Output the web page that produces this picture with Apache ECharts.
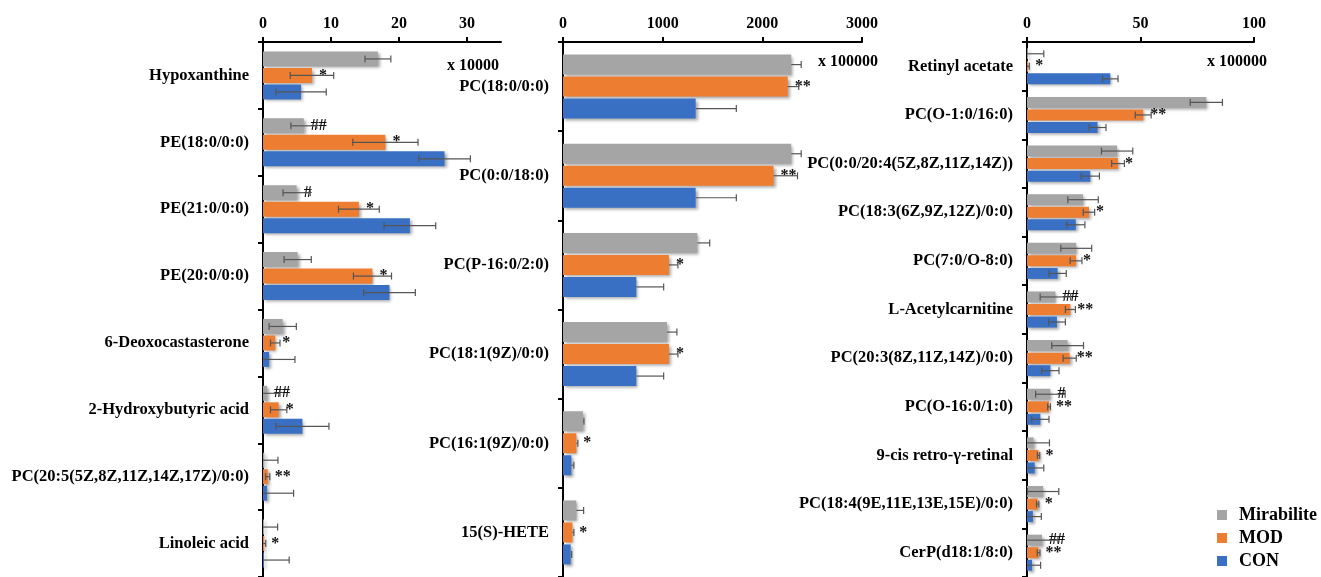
<!DOCTYPE html>
<html>
<head>
<meta charset="utf-8">
<script src="https://cdn.jsdelivr.net/npm/echarts@6/dist/echarts.min.js"></script>
<style>html,body{margin:0;padding:0;background:#fff}#c{width:1321px;height:577px}</style>
</head>
<body>
<div id="c"></div>
<script>
// ---- data ----
const seriesNames = ['Mirabilite', 'MOD', 'CON'];
const seriesColors = ['#a5a5a5', '#ed7d31', '#3a70c4'];

const leftCats = ['Hypoxanthine', 'PE(18:0/0:0)', 'PE(21:0/0:0)', 'PE(20:0/0:0)', '6-Deoxocastasterone', '2-Hydroxybutyric acid', 'PC(20:5(5Z,8Z,11Z,14Z,17Z)/0:0)', 'Linoleic acid'];
const leftMir = [16.9, 6.0, 4.95, 5.1, 2.9, 0.6, 0.2, 0.15];
const leftMirErr = [1.9, 1.9, 2.0, 2.0, 2.0, 1.9, 2.0, 2.0];
const leftMod = [7.2, 18.0, 14.1, 16.1, 1.8, 2.3, 0.7, 0.2];
const leftModErr = [3.2, 4.8, 3.0, 2.8, 0.7, 1.2, 0.3, 0.2];
const leftCon = [5.6, 26.7, 21.6, 18.6, 0.9, 5.8, 0.6, 0.15];
const leftConErr = [3.7, 3.8, 3.8, 3.8, 3.8, 3.9, 3.9, 3.7];
const leftMirSig = ['', '##', '#', '', '', '##', '', ''];
const leftModSig = ['*', '*', '*', '*', '*', '*', '**', '*'];
const leftTicks = [0, 10, 20, 30];

const midCats = ['PC(18:0/0:0)', 'PC(0:0/18:0)', 'PC(P-16:0/2:0)', 'PC(18:1(9Z)/0:0)', 'PC(16:1(9Z)/0:0)', '15(S)-HETE'];
const midMir = [2290, 2290, 1348, 1043, 200, 134];
const midMirErr = [100, 100, 124, 100, 10, 73];
const midMod = [2255, 2113, 1063, 1063, 134, 94];
const midModErr = [110, 240, 90, 90, 15, 15];
const midCon = [1331, 1331, 736, 736, 84, 77];
const midConErr = [408, 408, 274, 274, 25, 10];
const midMirSig = ['', '', '', '', '', ''];
const midModSig = ['**', '**', '*', '*', '*', '*'];
const midTicks = [0, 1000, 2000, 3000];

const rightCats = ['Retinyl acetate', 'PC(O-1:0/16:0)', 'PC(0:0/20:4(5Z,8Z,11Z,14Z))', 'PC(18:3(6Z,9Z,12Z)/0:0)', 'PC(7:0/O-8:0)', 'L-Acetylcarnitine', 'PC(20:3(8Z,11Z,14Z)/0:0)', 'PC(O-16:0/1:0)', '9-cis retro-γ-retinal', 'PC(18:4(9E,11E,13E,15E)/0:0)', 'CerP(d18:1/8:0)'];
const rightMir = [0.4, 79.0, 39.7, 24.7, 21.7, 12.5, 17.9, 10.3, 2.9, 7.1, 6.6];
const rightMirErr = [7.0, 7.1, 6.9, 6.7, 6.8, 6.7, 7.0, 6.5, 7.0, 6.9, 7.0];
const rightMod = [0.5, 51.2, 40.1, 27.3, 21.6, 19.1, 18.8, 9.7, 5.1, 4.7, 5.1];
const rightModErr = [0.5, 3.5, 2.8, 2.5, 2.6, 2.2, 2.9, 0.6, 0.5, 0.5, 0.6];
const rightCon = [36.7, 31.1, 27.9, 21.5, 13.5, 13.2, 10.3, 5.9, 3.4, 2.6, 2.2];
const rightConErr = [3.4, 3.7, 4.0, 4.0, 3.8, 3.7, 3.8, 3.8, 4.0, 3.7, 3.8];
const rightMirSig = ['', '', '', '', '', '##', '', '#', '', '', '##'];
const rightModSig = ['*', '**', '*', '*', '*', '**', '**', '**', '*', '*', '**'];
const rightTicks = [0, 50, 100];

const unitLabels = ['x 10000', 'x 100000', 'x 100000'];

// ---- build ----
const FONT = "'Liberation Serif', 'Times New Roman', serif";
const panels = [
  {cats: leftCats, vals: [leftMir, leftMod, leftCon], errs: [leftMirErr, leftModErr, leftConErr], sigs: [leftMirSig, leftModSig, null], ticks: leftTicks, max: 35, interval: 10, grid: {left: 263, top: 42, width: 238, height: 535}, bw: 15, gapPct: 0.1, oneSided: false, unit: {x: 447, y: 67}},
  {cats: midCats, vals: [midMir, midMod, midCon], errs: [midMirErr, midModErr, midConErr], sigs: [midMirSig, midModSig, null], ticks: midTicks, max: 3000, interval: 1000, grid: {left: 563, top: 42, width: 299, height: 535}, bw: 20, gapPct: 0.1, oneSided: true, unit: {x: 818, y: 63}},
  {cats: rightCats, vals: [rightMir, rightMod, rightCon], errs: [rightMirErr, rightModErr, rightConErr], sigs: [rightMirSig, rightModSig, null], ticks: rightTicks, max: 100, interval: 50, grid: {left: 1027, top: 42, width: 227, height: 535}, bw: 11, gapPct: 0.14, oneSided: false, unit: {x: 1207, y: 63}}
];

const grids = [], xAxes = [], yAxes = [], series = [], graphics = [];
panels.forEach((p, pi) => {
  grids.push(Object.assign({containLabel: false}, p.grid));
  xAxes.push({
    type: 'value', gridIndex: pi, position: 'top', min: 0, max: p.max, interval: p.interval,
    splitLine: {show: false},
    axisLine: {show: true, lineStyle: {color: '#000', width: 2}},
    axisTick: {show: true, length: 5, lineStyle: {color: '#000', width: 2}, customValues: p.ticks},
    axisLabel: {fontFamily: FONT, fontWeight: 'bold', fontSize: 16, color: '#000', margin: 10, customValues: p.ticks,
      formatter: (v) => String(v)}
  });
  yAxes.push({
    type: 'category', gridIndex: pi, inverse: true, data: p.cats,
    axisLine: {show: true, lineStyle: {color: '#000', width: 2}},
    axisTick: {show: true, length: 5, lineStyle: {color: '#000', width: 2}},
    axisLabel: {fontFamily: FONT, fontWeight: 'bold', fontSize: 16.5, color: '#000', margin: 14}
  });
  for (let k = 0; k < 3; k++) {
    const sig = p.sigs[k];
    series.push({
      type: 'bar', name: seriesNames[k], xAxisIndex: pi, yAxisIndex: pi,
      data: p.vals[k], barWidth: p.bw, barGap: (p.gapPct * 100) + '%',
      itemStyle: {color: seriesColors[k], shadowBlur: 3, shadowColor: 'rgba(0,0,0,0.35)', shadowOffsetX: 2, shadowOffsetY: 2},
      label: {show: !!sig, position: 'right', distance: 7, fontFamily: FONT, fontWeight: 'bold', fontSize: 16, color: '#111',
        formatter: (prm) => sig ? sig[prm.dataIndex] : ''},
      z: 2, animation: false
    });
  }
  const errData = [];
  for (let k = 0; k < 3; k++) {
    p.vals[k].forEach((v, i) => errData.push([v, i, p.errs[k][i], k]));
  }
  const bw = p.bw, gap = p.bw * p.gapPct, oneSided = p.oneSided;
  series.push({
    type: 'custom', xAxisIndex: pi, yAxisIndex: pi, data: errData, z: 5, silent: true, animation: false,
    encode: {x: 0, y: 1},
    renderItem: (params, api) => {
      const v = api.value(0), c = api.value(1), e = api.value(2), k = api.value(3);
      const base = api.coord([v, c]);
      const y = base[1] + (k - 1) * (bw + gap);
      const lo = oneSided ? v : Math.max(0, v - e);
      const x1 = api.coord([lo, c])[0];
      const x2 = api.coord([v + e, c])[0];
      const st = {stroke: '#555', lineWidth: 1.2};
      const ch = [{type: 'line', shape: {x1: x1, y1: y, x2: x2, y2: y}, style: st},
                  {type: 'line', shape: {x1: x2, y1: y - 3.5, x2: x2, y2: y + 3.5}, style: st}];
      if (!oneSided && v - e > 0) ch.push({type: 'line', shape: {x1: x1, y1: y - 3.5, x2: x1, y2: y + 3.5}, style: st});
      return {type: 'group', children: ch};
    }
  });
  graphics.push({type: 'text', left: p.unit.x, top: p.unit.y - 9, style: {text: unitLabels[pi], font: 'bold 16px ' + FONT, fill: '#000'}});
});

const chart = echarts.init(document.getElementById('c'));
chart.setOption({
  animation: false,
  grid: grids, xAxis: xAxes, yAxis: yAxes, series: series, graphic: graphics,
  legend: {
    data: seriesNames, orient: 'vertical', left: 1212, top: 501, icon: 'rect', itemWidth: 10, itemHeight: 10, itemGap: 5,
    textStyle: {fontFamily: FONT, fontWeight: 'bold', fontSize: 18, color: '#000', lineHeight: 18, padding: [0, 0, 0, 7]}
  }
});
</script>
</body>
</html>
